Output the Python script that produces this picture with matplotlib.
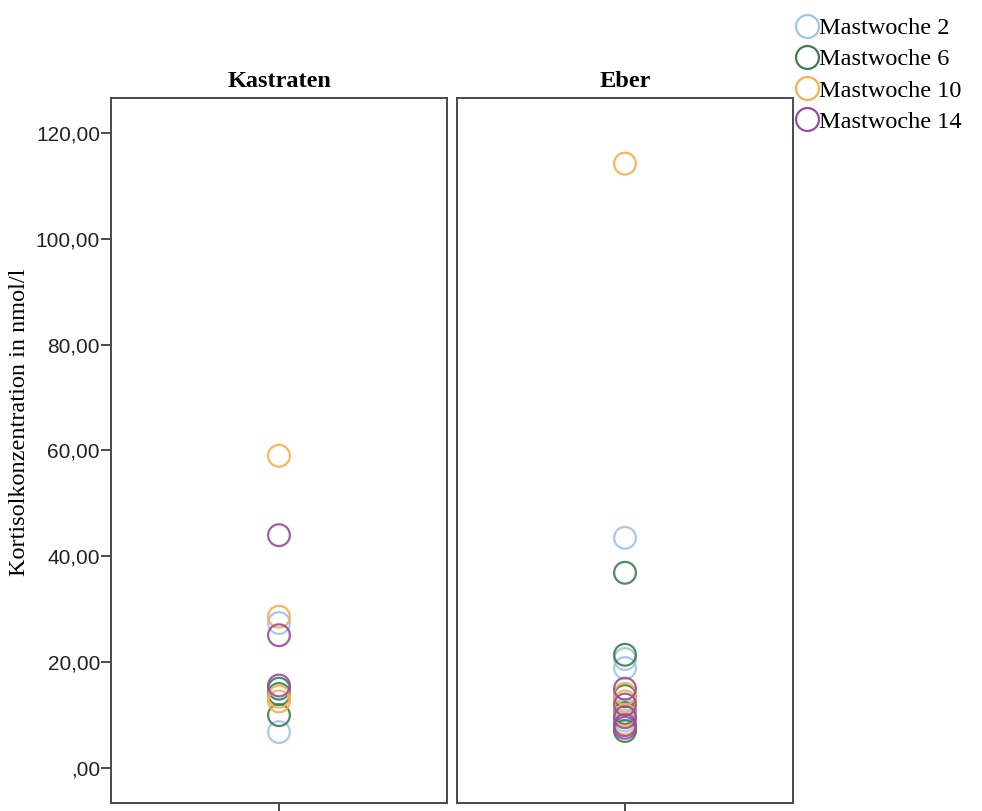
import matplotlib
matplotlib.use("Agg")
import matplotlib.pyplot as plt
from matplotlib.lines import Line2D
from matplotlib.ticker import FuncFormatter

# Kortisolkonzentration (nmol/l) je Mastwoche
panels = ["Kastraten", "Eber"]
weeks = ["Mastwoche 2", "Mastwoche 6", "Mastwoche 10", "Mastwoche 14"]
colors = ["#9fc4e8", "#3d7d52", "#f7ae4b", "#974c9f"]

kastraten = {
    "Mastwoche 2": [27.4, 6.8],
    "Mastwoche 6": [15.0, 14.0, 10.0],
    "Mastwoche 10": [59.0, 28.6, 13.5, 12.6],
    "Mastwoche 14": [44.0, 25.1, 15.6],
}
eber = {
    "Mastwoche 2": [43.5, 20.6, 18.9, 11.0, 9.0],
    "Mastwoche 6": [36.9, 21.4, 13.6, 10.4, 7.0],
    "Mastwoche 10": [114.2, 14.0, 12.6, 10.0, 8.4],
    "Mastwoche 14": [15.0, 12.0, 9.6, 8.1, 7.6],
}
data = [kastraten, eber]

yticks = [0, 20, 40, 60, 80, 100, 120]

edge = "#4a4a4a"
serif = ["Liberation Serif", "DejaVu Serif"]
narrow = ["Liberation Sans Narrow", "Liberation Sans", "DejaVu Sans"]

fig = plt.figure(figsize=(9.82, 8.11), dpi=100)
W, H = 982, 811


def frac(x0, y0, x1, y1):
    return [x0 / W, 1 - y1 / H, (x1 - x0) / W, (y1 - y0) / H]


def fmt(v, p):
    s = ("%.2f" % v).replace(".", ",")
    return s[1:] if v == 0 else s


axes = [fig.add_axes(frac(111, 98, 447, 803)), fig.add_axes(frac(457, 98, 793, 803))]

for i, ax in enumerate(axes):
    for w, c in zip(weeks, colors):
        vals = data[i][w]
        ax.scatter([0] * len(vals), vals, s=245, facecolors="none",
                   edgecolors=c, linewidths=1.6, alpha=0.9, zorder=3)
    ax.set_xlim(-1, 1)
    ax.set_ylim(-6.6, 126.6)
    ax.set_xticks([0])
    ax.set_xticklabels([])
    ax.tick_params(axis="x", direction="out", length=9, width=1.4, color=edge)
    ax.tick_params(axis="y", direction="out", length=7, width=1.4, color=edge,
                   pad=1)
    for sp in ax.spines.values():
        sp.set_color(edge)
        sp.set_linewidth(1.4)
    ax.set_title(panels[i], fontfamily=serif, fontweight="bold", fontsize=17.5,
                 pad=8)
    if i == 0:
        ax.set_yticks(yticks)
        ax.yaxis.set_major_formatter(FuncFormatter(fmt))
        for lab in ax.get_yticklabels():
            lab.set_fontfamily(narrow)
            lab.set_fontsize(15)
            lab.set_color("#222222")
    else:
        ax.set_yticks([])

fig.text(20 / W, 1 - 422 / H, "Kortisolkonzentration in nmol/l", rotation=90,
         ha="center", va="center", fontfamily=serif, fontsize=17.5)

handles = [Line2D([], [], marker="o", linestyle="none", markersize=16.5,
                  markerfacecolor="none", markeredgecolor=c, markeredgewidth=1.6)
           for c in colors]
fig.legend(handles, weeks, loc="upper left", bbox_to_anchor=(779 / W, 1 - 5 / H),
           frameon=False, handletextpad=-0.15, handlelength=1.3, labelspacing=0.38,
           borderpad=0, prop={"family": serif, "size": 17.5})

fig.savefig("out.png", dpi=100)
